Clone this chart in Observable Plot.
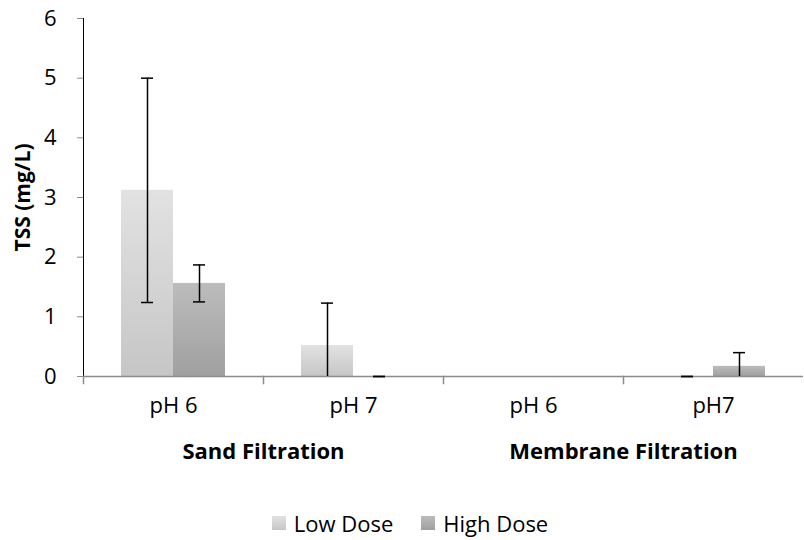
<!DOCTYPE html>
<html>
<head>
<meta charset="utf-8">
<script src="https://cdn.jsdelivr.net/npm/d3@7"></script>
<script src="https://cdn.jsdelivr.net/npm/@observablehq/plot@0.6"></script>
<style>
  html, body { margin: 0; padding: 0; background: #fff; }
  #chart { width: 804px; font-family: "Open Sans", sans-serif; }
  #chart svg { display: block; }
  g[aria-label="y-axis label"] text, g[aria-label="y-axis label"] { font-weight: bold; font-size: 21px; }
  .legend { display: flex; justify-content: center; align-items: center; margin-top: 38px; padding-left: 16px; font-size: 22px; color: #000; }
  .legend .item { display: flex; align-items: center; margin: 0 14px; }
  .legend .sw { width: 14px; height: 14px; margin-right: 8px; }
</style>
</head>
<body>
<div id="chart"></div>
<script>
// ---- data ----
const filtrations = ["Sand Filtration", "Sand Filtration", "Membrane Filtration", "Membrane Filtration"];
const phLabels = ["pH 6", "pH 7", "pH 6", "pH7"];
const doses = ["Low Dose", "High Dose"];
const lowValues = [3.12, 0.52, null, 0];
const lowErrors = [1.88, 0.71, null, 0];
const highValues = [1.56, 0, null, 0.17];
const highErrors = [0.31, 0, null, 0.23];
const yTicks = [0, 1, 2, 3, 4, 5, 6];

// ---- build table ----
const catKeys = filtrations.map((f, i) => f + "|" + phLabels[i]);
const catLabel = new Map(catKeys.map((k, i) => [k, phLabels[i]]));
const cats = catKeys.map(cat => ({cat}));
const rows = [];
catKeys.forEach((cat, i) => {
  [[doses[0], lowValues[i], lowErrors[i]], [doses[1], highValues[i], highErrors[i]]].forEach(([dose, v, e]) => {
    if (v == null) return;
    rows.push({cat, dose, value: v, lo: Math.max(0, v - e), hi: v + e, loVisible: v - e >= 0});
  });
});
// group labels centered between the two categories of each filtration
const groups = [];
filtrations.forEach((f, i) => {
  if (i > 0 && filtrations[i - 1] === f) groups.push({cat: catKeys[i], label: f});
});

const lowRows = rows.filter(d => d.dose === doses[0]);
const highRows = rows.filter(d => d.dose === doses[1]);

const plot = Plot.plot({
  width: 804,
  height: 470,
  marginLeft: 82,
  marginRight: 0,
  marginTop: 18,
  marginBottom: 94,
  style: {fontFamily: "Open Sans, sans-serif", fontSize: "22px", color: "#000", background: "#fff", overflow: "visible"},
  fx: {domain: catKeys, padding: 0, tickFormat: d => catLabel.get(d), tickSize: 0, tickPadding: 21, label: null},
  x: {domain: doses, paddingInner: 0, paddingOuter: 0.72, axis: null},
  y: {domain: [0, 6], ticks: yTicks, tickFormat: d3.format("d"), tickSize: 6, tickPadding: 21, line: true, label: "TSS (mg/L)", labelArrow: "none", labelAnchor: "center", labelOffset: 68},
  marks: [
    Plot.barY(lowRows, {fx: "cat", x: "dose", y: "value", fill: "url(#gLow)"}),
    Plot.barY(highRows, {fx: "cat", x: "dose", y: "value", fill: "url(#gHigh)"}),
    Plot.ruleY(cats, {fx: "cat", y: () => 0, stroke: "#8c8c8c", strokeWidth: 1.5}),
    Plot.frame({anchor: "left", stroke: "#8c8c8c", strokeWidth: 1.5, insetTop: 358, insetBottom: -7}),
    Plot.ruleX(rows, {fx: "cat", x: "dose", y1: "lo", y2: "hi", stroke: "#000", strokeWidth: 1.5}),
    Plot.tickY(rows, {fx: "cat", x: "dose", y: "hi", stroke: "#000", strokeWidth: 1.5, insetLeft: 20, insetRight: 20}),
    Plot.tickY(rows.filter(d => d.loVisible), {fx: "cat", x: "dose", y: "lo", stroke: "#000", strokeWidth: 1.5, insetLeft: 20, insetRight: 20}),
    Plot.text(groups, {fx: "cat", frameAnchor: "bottom-left", text: "label", textAnchor: "middle", dy: 82, fontWeight: "bold", fontSize: 22, fill: "#000"})
  ]
});

plot.insertAdjacentHTML("afterbegin",
  '<defs>' +
  '<linearGradient id="gLow" x1="0" y1="0" x2="0" y2="1"><stop offset="0" stop-color="#e2e2e2"/><stop offset="1" stop-color="#c6c6c6"/></linearGradient>' +
  '<linearGradient id="gHigh" x1="0" y1="0" x2="0" y2="1"><stop offset="0" stop-color="#bcbcbc"/><stop offset="1" stop-color="#a0a0a0"/></linearGradient>' +
  '</defs>');

plot.querySelectorAll('g[aria-label^="y-axis"] line, g[aria-label^="y-axis"] path').forEach(el => el.setAttribute("stroke", "#8c8c8c"));

const chart = document.getElementById("chart");
chart.appendChild(plot);

const legend = document.createElement("div");
legend.className = "legend";
legend.innerHTML = doses.map((d, i) =>
  `<div class="item"><div class="sw" style="background: linear-gradient(${i === 0 ? "#e2e2e2, #c6c6c6" : "#bcbcbc, #a0a0a0"})"></div><span>${d}</span></div>`
).join("");
chart.appendChild(legend);
</script>
</body>
</html>
